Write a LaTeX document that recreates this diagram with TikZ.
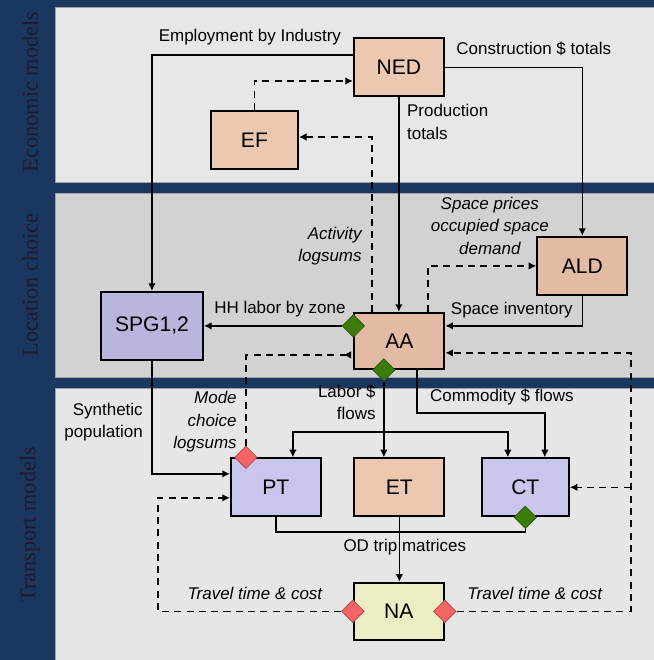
\documentclass[tikz,border=0pt]{standalone}
\usepackage{fontspec}
\setmainfont{Liberation Sans}
\newfontfamily\sidefont{Liberation Serif}
\usetikzlibrary{calc,arrows.meta,shapes.geometric}
\definecolor{navy}{HTML}{1A3760}
\definecolor{paneleco}{HTML}{E7E7E7}
\definecolor{panelloc}{HTML}{D2D2D2}
\definecolor{paneltrans}{HTML}{E6E6E6}
\definecolor{panelline}{HTML}{9EA3AC}
\definecolor{peach}{HTML}{EDC8B0}
\definecolor{tan}{HTML}{E3BAA3}
\definecolor{lilac}{HTML}{B9B6DD}
\definecolor{lavender}{HTML}{C9C6EE}
\definecolor{paleyellow}{HTML}{EDEDC3}
\definecolor{portgreen}{HTML}{3B7D0C}
\definecolor{portred}{HTML}{F46464}
\definecolor{sidetext}{HTML}{1F1A2C}
\pgfdeclarelayer{panel}
\pgfdeclarelayer{wire}
\pgfsetlayers{panel,wire,main}

\begin{document}
\begin{tikzpicture}[x=0.03cm,y=-0.03cm,
    box/.style={draw, line width=1.7pt, minimum width=2.7cm, minimum height=1.74cm, inner sep=0pt, font=\fontsize{18}{20}\selectfont},
    flow/.style={line width=1.35pt, -{Latex[length=6.5pt,width=6.5pt]}},
    dflow/.style={flow, dash pattern=on 6pt off 4.5pt},
    lbl/.style={inner sep=0pt, font=\fontsize{14.5}{19}\selectfont},
    ilbl/.style={lbl, font=\fontsize{14.5}{19}\selectfont\itshape},
    port/.style={diamond, inner sep=0pt, minimum size=0.68cm, fill=#1, draw=#1!70!black, line width=0.6pt},
    side/.style={rotate=90, font=\sidefont\fontsize{19}{20}\selectfont, text=sidetext}]
    %PANELS
    \begin{pgfonlayer}{panel}
    \fill[navy] (0,0) rectangle (654,660);
    \filldraw[fill=paneleco, draw=panelline] (55,7) rectangle (654,182);
    \filldraw[fill=panelloc, draw=panelline] (55,193) rectangle (654,377);
    \filldraw[fill=paneltrans, draw=panelline] (55,388) rectangle (654,660);
    \end{pgfonlayer}
    \node[side] (sideEco) at (30,92) {Economic models};
    \node[side] (sideLoc) at (30,285) {Location choice};
    \node[side] (sideTra) at (30,525) {Transport models};
    %KOTAK
    \node[box, fill=peach] (NED) at (399,67.5) {NED};
    \node[box, fill=peach, minimum width=2.61cm] (EF) at (254.5,140) {EF};
    \node[box, fill=tan] (ALD) at (582.5,266) {ALD};
    \node[box, fill=tan, minimum height=1.68cm] (AA) at (399.5,341) {AA};
    \node[box, fill=lilac, minimum width=3.06cm, minimum height=2.04cm] (SPG) at (152,326) {SPG1,2};
    \node[box, fill=lavender] (PT) at (276,487.5) {PT};
    \node[box, fill=peach] (ET) at (399.5,487.5) {ET};
    \node[box, fill=lavender, minimum width=2.61cm] (CT) at (525.5,487.5) {CT};
    \node[box, fill=paleyellow, minimum height=1.71cm] (NA) at (399,611.5) {NA};
    %PORTS
    \node[port=portgreen] (pAAw) at ($(AA.west)+(0,-15)$) {};
    \node[port=portgreen] (pAAs) at ($(AA.south)+(-15.5,0)$) {};
    \node[port=portred] (pPT) at ($(PT.north)+(-30,0)$) {};
    \node[port=portgreen] (pCT) at (CT.south) {};
    \node[port=portred] (pNAw) at (NA.west) {};
    \node[port=portred] (pNAe) at (NA.east) {};
    %TITIK BANTU
    \coordinate (labSplit) at ($(pAAs)+(0,62)$);
    \coordinate (odJoin) at ($(ET.south)+(0,14.5)$);
    \coordinate (ttRight) at ($(pNAe)+(186,0)$);
    \coordinate (ttLeft) at ($(pNAw)+(-195,0)$);
    %PANAH
    \begin{pgfonlayer}{wire}
    \draw[flow] ($(NED.west)+(0,-12.5)$) -| (SPG.north);
    \draw[flow] (NED.east) -| (ALD.north);
    \draw[flow] (NED.south) -- (NED.south |- AA.north);
    \draw[dflow] (EF.north) |- ($(NED.west)+(0,13.5)$);
    \draw[dflow] ($(AA.north)+(-27.5,0)$) |- ($(EF.east)+(0,-3)$);
    \draw[dflow] ($(AA.north)+(28.5,0)$) |- (ALD.west);
    \draw[flow] (ALD.south) |- ($(AA.east)+(0,-15)$);
    \draw[flow] (pAAw) -- (pAAw -| SPG.east);
    \draw[dflow, {Latex[reversed,length=6.5pt,width=6.5pt]}-, shorten <=2pt] ($(AA.west)+(0,14)$) -| (pPT);
    \draw[dflow] (pNAe) -- (ttRight) |- ($(AA.east)+(0,12)$);
    \draw[dflow] (ttRight |- CT.east) -- (CT.east);
    \draw[dflow] (pNAw) -- (ttLeft) |- ($(PT.west)+(0,10.5)$);
    \draw[flow] (SPG.south) |- ($(PT.west)+(0,-13.5)$);
    \draw[flow] (pAAs) -- (pAAs |- ET.north);
    \draw[flow] (labSplit) -| ($(PT.north)+(17,0)$);
    \draw[flow] (labSplit) -| ($(CT.north)+(-17.5,0)$);
    \draw[flow] ($(AA.south)+(17.5,0)$) -- ++(0,43) -| ($(CT.north)+(19.5,0)$);
    \draw[line width=1.35pt] (PT.south) |- (odJoin);
    \draw[line width=1.35pt] (pCT) |- (odJoin);
    \draw[flow] (ET.south) -- (ET.south |- NA.north);
    \end{pgfonlayer}
    %LABEL
    \node[lbl] (lEmp) at (250,37) {Employment by Industry};
    \node[lbl] (lCon) at (534,49) {Construction \$ totals};
    \node[lbl, align=left, anchor=west] (lProd) at (407,122) {Production\\totals};
    \node[ilbl, align=right, anchor=east] (lAct) at (362,246) {Activity\\logsums};
    \node[ilbl, align=center] (lSpace) at (490,226) {Space prices\\occupied space\\demand};
    \node[lbl] (lInv) at (512,310) {Space inventory};
    \node[lbl] (lHH) at (280,309) {HH labor by zone};
    \node[ilbl, align=right, anchor=east] (lMode) at (237,422) {Mode\\choice\\logsums};
    \node[lbl, align=right, anchor=east] (lSyn) at (143,422) {Synthetic\\population};
    \node[lbl, align=right, anchor=east] (lLab) at (376,402.5) {Labor \$\\flows};
    \node[lbl] (lCom) at (502,397) {Commodity \$ flows};
    \node[lbl] (lOD) at (405,547) {OD trip matrices};
    \node[ilbl] (lTTl) at (255,594) {Travel time \& cost};
    \node[ilbl] (lTTr) at (535,594) {Travel time \& cost};
\end{tikzpicture}
\end{document}
